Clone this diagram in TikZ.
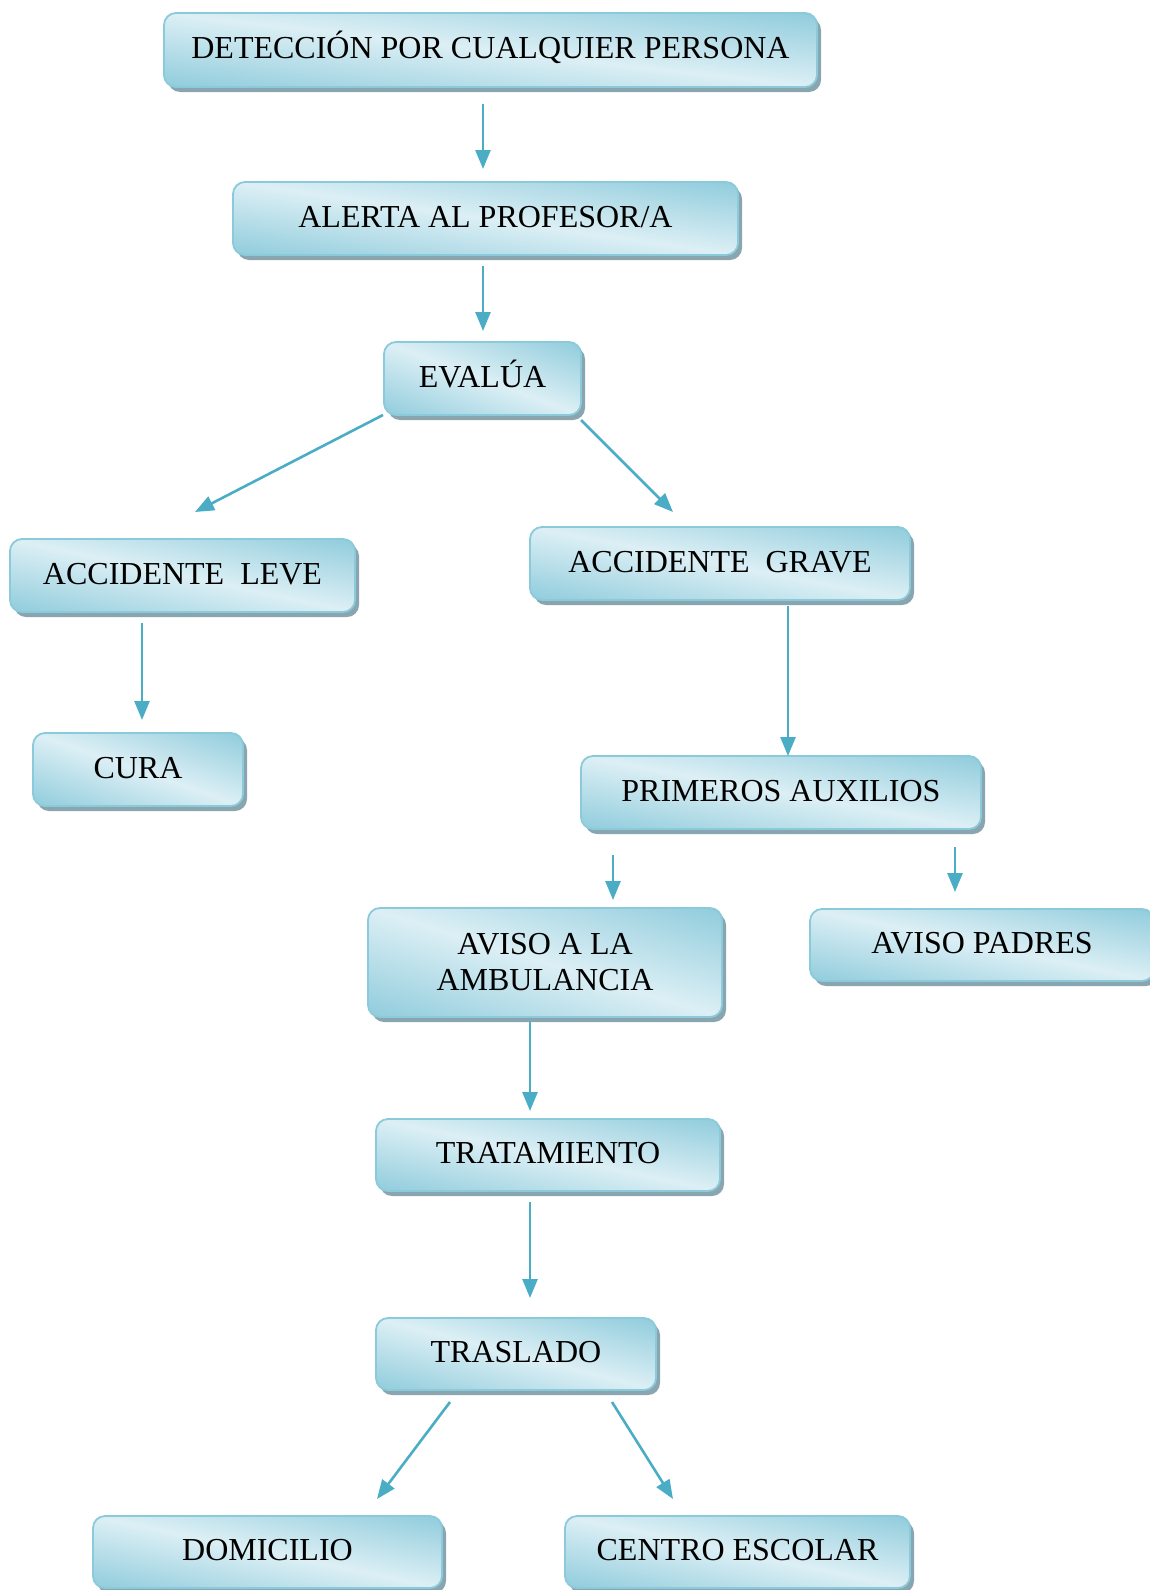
\documentclass[tikz,border=0pt]{standalone}
\usepackage{fontspec}
\setmainfont{Liberation Serif}
\usetikzlibrary{arrows.meta}
\definecolor{boxdark}{RGB}{144,204,220}
\definecolor{boxlight}{RGB}{220,239,245}
\definecolor{boxline}{RGB}{138,202,218}
\definecolor{shadowc}{RGB}{137,166,176}
\definecolor{arrowc}{RGB}{75,172,198}
% #1 node options, #2 name, #3 cx, #4 cy, #5 width, #6 height, #7 text
\newcommand\flownode[7][oneline]{%
  \fill[shadowc, rounded corners=12pt] (#3-#5/2+4, #4-#6/2+5) rectangle ++(#5,#6);
  \begin{scope}
    \clip[rounded corners=12pt] (#3-#5/2, #4-#6/2) rectangle ++(#5,#6);
    \begin{scope}[transform canvas={shift={(#3,#4)}, xscale=#5/2, yscale=#6/2, rotate=-45}]
      \shade[top color=boxdark, bottom color=boxdark, middle color=boxlight]
        (-1.4143pt,-1.4143pt) rectangle (1.4143pt,1.4143pt);
    \end{scope}
  \end{scope}
  \node[flowbox, minimum width=#5pt, minimum height=#6pt, #1] (#2) at (#3,#4) {#7};
}
\begin{document}
\begin{tikzpicture}[x=1pt,y=-1pt,
  flowbox/.style={rectangle, rounded corners=12pt, draw=boxline, line width=1.8pt,
    inner sep=0pt, outer sep=0pt, font=\fontsize{32}{36}\selectfont},
  oneline/.style={text height=21pt, text depth=4pt},
  flowarrow/.style={draw=arrowc, line width=2.6pt, -{Triangle[length=19pt,width=15pt]}}]
\useasboundingbox (0,0) rectangle (1149,1590);

\flownode{det}{490.5}{50}{653}{74}{DETECCIÓN POR CUALQUIER PERSONA}
\flownode{alert}{485.5}{218.5}{505}{73}{ALERTA AL PROFESOR/A}
\flownode{eval}{482.5}{378.5}{197}{73}{EVALÚA}
\flownode{leve}{182.5}{575.5}{345}{73}{ACCIDENTE\hspace{0.5em}LEVE}
\flownode{grave}{720}{563.5}{380}{73}{ACCIDENTE\hspace{0.5em}GRAVE}
\flownode{cura}{138}{769.5}{210}{73}{CURA}
\flownode{prim}{781}{792.5}{400}{73}{PRIMEROS AUXILIOS}
\flownode[align=center]{amb}{545}{962.5}{354}{109}{AVISO A LA\\AMBULANCIA}
\flownode{padres}{982}{945}{344}{72}{AVISO PADRES}
\flownode{trat}{548}{1155}{344}{72}{TRATAMIENTO}
\flownode{tras}{516}{1354}{280}{72}{TRASLADO}
\flownode{dom}{267.5}{1552}{349}{72}{DOMICILIO}
\flownode{centro}{737.5}{1552}{345}{72}{CENTRO ESCOLAR}

\draw[flowarrow] ([xshift=-7.5pt,yshift=-17pt]det.south) -- ([xshift=-2.5pt,yshift=13pt]alert.north);
\draw[flowarrow] ([xshift=-2.5pt,yshift=-11pt]alert.south) -- ([xshift=0.5pt,yshift=11pt]eval.north);
\draw[flowarrow] ([xshift=-1pt]eval.south west) -- ([xshift=12.5pt,yshift=27pt]leve.north);
\draw[flowarrow] ([yshift=-5pt]eval.south east) -- ([xshift=-47pt,yshift=15pt]grave.north);
\draw[flowarrow] ([xshift=-40.5pt,yshift=-11pt]leve.south) -- ([xshift=4pt,yshift=13pt]cura.north);
\draw[flowarrow] ([xshift=68pt,yshift=-6pt]grave.south) -- ([xshift=7pt]prim.north);
\draw[flowarrow] ([xshift=-168pt,yshift=-26pt]prim.south) -- ([xshift=68pt,yshift=8pt]amb.north);
\draw[flowarrow] ([xshift=174pt,yshift=-18pt]prim.south) -- ([xshift=-27pt,yshift=17pt]padres.north);
\draw[flowarrow] ([xshift=-15pt,yshift=-5pt]amb.south) -- ([xshift=-18pt,yshift=8pt]trat.north);
\draw[flowarrow] ([xshift=-18pt,yshift=-11pt]trat.south) -- ([xshift=14pt,yshift=20pt]tras.north);
\draw[flowarrow] ([xshift=-66pt,yshift=-12pt]tras.south) -- ([xshift=109.5pt,yshift=17pt]dom.north);
\draw[flowarrow] ([xshift=96pt,yshift=-12pt]tras.south) -- ([xshift=-64.5pt,yshift=17pt]centro.north);
\end{tikzpicture}
\end{document}
